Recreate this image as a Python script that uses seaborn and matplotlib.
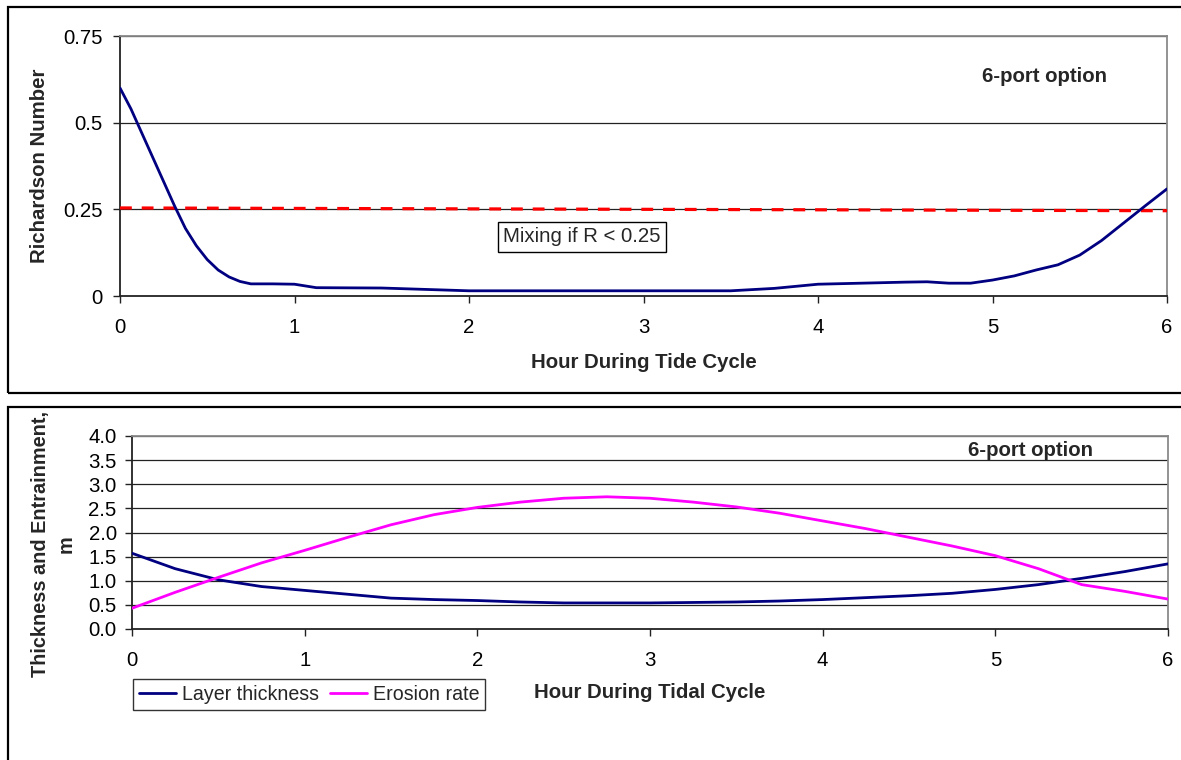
import matplotlib
matplotlib.use("Agg")
import matplotlib.pyplot as plt
from matplotlib.patches import Rectangle
import seaborn as sns
import pandas as pd

# Richardson number through the tide cycle (6-port option)
ri_hours = [0, 0.0625, 0.125, 0.1875, 0.25, 0.3125, 0.375, 0.4375, 0.5, 0.5625, 0.625,
            0.6875, 0.75, 0.875, 1.0, 1.125, 1.5,
            2.0, 2.5, 3.0, 3.5, 3.75, 4.0, 4.25, 4.5, 4.625, 4.75, 4.875,
            5.0, 5.125, 5.25, 5.375, 5.5, 5.625, 5.75, 5.875, 6.0]
ri_values = [0.60, 0.54, 0.47, 0.40, 0.33, 0.26, 0.195, 0.145, 0.105, 0.075, 0.055,
             0.042, 0.035, 0.035, 0.034, 0.024, 0.023,
             0.015, 0.015, 0.015, 0.015, 0.022, 0.034, 0.037, 0.040, 0.041, 0.037, 0.037,
             0.046, 0.058, 0.075, 0.090, 0.118, 0.160, 0.210, 0.260, 0.309]

# Critical Richardson number line
crit_hours = [0, 6]
crit_values = [0.254, 0.246]

# Layer thickness and erosion rate through the tidal cycle
tide_hours = [0, 0.25, 0.5, 0.75, 1.0, 1.25, 1.5, 1.75, 2.0, 2.25, 2.5, 2.75, 3.0,
              3.25, 3.5, 3.75, 4.0, 4.25, 4.5, 4.75, 5.0, 5.25, 5.5, 5.75, 6.0]
layer_thickness = [1.57, 1.25, 1.02, 0.88, 0.80, 0.72, 0.64, 0.61, 0.59, 0.56, 0.54, 0.54, 0.54,
                   0.55, 0.56, 0.58, 0.61, 0.65, 0.69, 0.74, 0.82, 0.92, 1.05, 1.19, 1.35]
erosion_rate = [0.43, 0.76, 1.07, 1.37, 1.63, 1.90, 2.16, 2.37, 2.52, 2.63, 2.71, 2.74, 2.71,
                2.63, 2.53, 2.40, 2.24, 2.08, 1.90, 1.72, 1.52, 1.25, 0.92, 0.78, 0.62]

x_ticks = [0, 1, 2, 3, 4, 5, 6]
ri_ticks = [0, 0.25, 0.5, 0.75]
ri_tick_labels = ["0", "0.25", "0.5", "0.75"]
thick_ticks = [0.0, 0.5, 1.0, 1.5, 2.0, 2.5, 3.0, 3.5, 4.0]

sns.set_theme(style="white")
plt.rcParams["font.family"] = ["Liberation Sans", "DejaVu Sans"]

W, H = 1181, 760
fig = plt.figure(figsize=(W / 100, H / 100), dpi=100)
fig.patch.set_facecolor("white")

NAVY = "#000080"
MAGENTA = "#FF00FF"
FS = 14.7


def px_rect(left, top, right, bottom):
    return [left / W, 1 - bottom / H, (right - left) / W, (bottom - top) / H]


def style_axes(ax, yticks, yticklabels, ylim):
    ax.set_xlim(0, 6)
    ax.set_ylim(*ylim)
    ax.set_xticks(x_ticks)
    ax.set_xticklabels([str(t) for t in x_ticks])
    ax.set_yticks(yticks)
    ax.set_yticklabels(yticklabels)
    ax.grid(False)
    for y in yticks[1:]:
        ax.axhline(y, color="#222222", lw=0.9, zorder=1)
    for side in ("left", "bottom"):
        ax.spines[side].set_color("#222222")
        ax.spines[side].set_linewidth(1.3)
    for side in ("top", "right"):
        ax.spines[side].set_color("#8a8a8a")
        ax.spines[side].set_linewidth(1.3)
    ax.tick_params(axis="both", which="both", direction="out", length=5,
                   width=1, color="#222222", labelsize=FS, labelcolor="black",
                   left=True, bottom=True)
    ax.tick_params(axis="x", pad=11)
    ax.set_facecolor("white")


# Panel frames
fig.add_artist(Rectangle((8 / W, 1 - 393 / H), 1.2, (393 - 7) / H, transform=fig.transFigure,
                         fill=False, edgecolor="black", lw=1.6, clip_on=False))
fig.add_artist(Rectangle((8 / W, -0.2), 1.2, 0.2 + 1 - 407 / H, transform=fig.transFigure,
                         fill=False, edgecolor="black", lw=1.6, clip_on=False))

# ---- Richardson number panel ----
ax1 = fig.add_axes(px_rect(120, 36, 1167, 296))
df_ri = pd.DataFrame({"hour": ri_hours, "ri": ri_values})
df_crit = pd.DataFrame({"hour": crit_hours, "ri": crit_values})
sns.lineplot(data=df_ri, x="hour", y="ri", ax=ax1, color=NAVY, lw=2.0, zorder=4)
sns.lineplot(data=df_crit, x="hour", y="ri", ax=ax1, color="#FF0000", lw=2.3,
             dashes=False, zorder=3).lines[-1].set_dashes((3.7, 3.1))
style_axes(ax1, ri_ticks, ri_tick_labels, (0, 0.75))
ax1.tick_params(axis="y", pad=7.5)
ax1.set_xlabel("Hour During Tide Cycle", fontsize=FS, fontweight="bold", va="center")
ax1.xaxis.set_label_coords(0.5, -66 / 260)
ax1.set_ylabel("Richardson Number", fontsize=FS, fontweight="bold", va="center")
ax1.yaxis.set_label_coords(-80 / 1047, 0.5)
ax1.text((1044 - 120) / 1047, (296 - 76) / 260, "6-port option", transform=ax1.transAxes,
         fontsize=FS, fontweight="bold", ha="center", va="center")
ax1.text((582 - 120) / 1047, (296 - 237) / 260, "Mixing if R < 0.25", transform=ax1.transAxes,
         fontsize=FS, ha="center", va="center", zorder=6,
         bbox=dict(boxstyle="square,pad=0.28", facecolor="white", edgecolor="black", lw=1))

# ---- Thickness / entrainment panel ----
ax2 = fig.add_axes(px_rect(132, 436, 1168, 629))
df_tide = pd.DataFrame({
    "hour": tide_hours * 2,
    "value": layer_thickness + erosion_rate,
    "series": ["Layer thickness"] * len(tide_hours) + ["Erosion rate"] * len(tide_hours),
})
sns.lineplot(data=df_tide, x="hour", y="value", hue="series",
             palette={"Layer thickness": NAVY, "Erosion rate": MAGENTA},
             ax=ax2, lw=2.0, zorder=4)
style_axes(ax2, thick_ticks, [f"{t:.1f}" for t in thick_ticks], (0, 4.0))
ax2.tick_params(axis="y", pad=6)
ax2.set_xlabel("Hour During Tidal Cycle", fontsize=FS, fontweight="bold", va="center")
ax2.xaxis.set_label_coords(0.5, -63 / 193)
ax2.set_ylabel("Thickness and Entrainment,\nm", fontsize=14.3, fontweight="bold",
               va="center", ha="center", multialignment="center", linespacing=1.45)
ax2.yaxis.set_label_coords(-79 / 1036, (629 - 544) / 193)
ax2.text((1031 - 132) / 1036, (629 - 451) / 193, "6-port option", transform=ax2.transAxes,
         fontsize=FS, fontweight="bold", ha="center", va="center")

handles, labels = ax2.get_legend_handles_labels()
ax2.get_legend().remove()
leg = fig.legend(handles, labels, loc="upper left", bbox_to_anchor=(133 / W, 1 - 679 / H),
                 ncol=2, fontsize=14.1, frameon=True, fancybox=False, shadow=False,
                 borderaxespad=0, borderpad=0.3, handlelength=1.9, handletextpad=0.3,
                 columnspacing=0.55)
leg.get_frame().set_edgecolor("black")
leg.get_frame().set_linewidth(1)
for line in leg.get_lines():
    line.set_linewidth(2.0)

fig.savefig("out.png", dpi=100)
